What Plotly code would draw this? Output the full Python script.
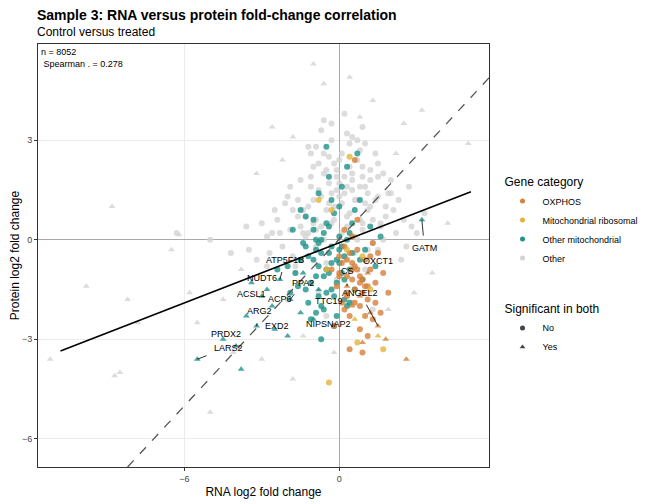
import plotly.graph_objects as go

# ---- data (representative subset) ----
other_circ_x = [-3.5,-3.0,-2.8,-2.5,-2.3,-2.0,-1.8,-1.6,-1.5,-1.3,-1.2,-1.0,-0.9,-0.8,-0.7,-0.6,-0.5,-0.4,-0.3,-0.2,-0.1,0.0,0.1,0.2,0.3,0.4,0.5,0.6,0.7,0.8,0.9,1.0,1.1,1.2,1.3,1.5,1.6,1.8,2.0,2.2,2.5,2.8,
                -2.2,-1.9,-1.7,-1.4,-1.1,-0.9,-0.6,-0.4,-0.2,0.1,0.3,0.5,0.7,0.9,1.1,1.4,1.7,2.1,-1.0,-0.5,0.0,0.4,0.8,1.2,-1.5,-0.8,0.2,0.6,1.0,1.5,-2.6,-3.2,-4.2,-5.0,-6.3,-0.3,0.2,0.9,-1.2,-0.7,1.9,2.4,-0.1,0.5,1.3,-2.0,-0.5,
                -1.6,-1.3,-1.1,-0.9,-0.7,-0.5,-0.3,-0.1,0.1,0.3,0.5,0.7,0.9,1.1,1.3,1.5,-1.4,-1.0,-0.6,-0.2,0.2,0.6,1.0,1.4,1.8,-1.8,-1.2,-0.8,-0.4,0.0,0.4,0.8,1.2,1.6,2.0,-2.4,-2.1,-1.5,-0.9,-0.3,0.3,0.9,1.5,2.3,2.6,-2.8,-1.9,-1.1,-0.1,0.7,1.7,3.0,-3.6,-2.7,-0.6,0.5,1.0,-1.7,2.7,3.3]
other_circ_y = [-0.3,0.5,-0.8,0.9,0.2,1.3,-0.5,0.7,1.8,0.1,1.0,2.2,-0.2,1.5,0.4,2.6,-0.7,1.1,3.0,0.6,1.9,2.4,0.2,1.4,3.2,0.8,2.0,-0.4,1.2,2.7,0.3,1.6,0.9,2.1,-0.1,1.3,0.5,1.0,1.8,0.2,0.6,0.4,
                -0.2,0.3,-1.0,0.9,1.6,2.8,0.0,1.7,2.3,1.1,0.4,1.5,2.4,1.9,-0.3,2.6,0.0,0.9,0.5,0.9,1.7,2.9,0.6,1.0,-1.3,-1.6,-0.6,0.1,-0.9,-0.3,0.2,-0.6,-0.4,0.0,0.2,3.5,3.8,3.4,2.8,3.3,1.4,-0.6,-1.2,-1.9,-2.1,-1.8,-2.3,
                1.2,0.7,1.9,0.3,1.3,2.1,0.5,1.5,2.6,0.7,1.8,0.0,2.2,1.4,0.6,1.9,0.2,1.2,2.0,1.0,1.9,1.2,1.1,1.2,0.7,0.9,0.2,2.3,2.5,1.3,2.2,1.6,1.8,0.4,1.4,0.6,1.1,0.4,0.6,1.4,1.6,0.5,2.3,1.2,-0.2,0.1,1.6,2.6,2.1,3.0,2.0,0.2,0.4,-0.4,3.6,3.1,2.9,-0.8,1.6,0.8]
other_tri_x = [-11.2,-8.8,-8.2,-7.8,-8.5,-8.7,-6.2,-6.5,-5.8,-5.5,-4.5,-3.8,-3.2,-2.2,-1.8,-1.0,-0.6,0.4,2.5,3.2,5.0,4.2,3.6,2.9,1.9,-5.0,-3.0,-1.8,-0.2,-4.1,-9.8,-2.6,1.3,2.2,-1.4,0.8]
other_tri_y = [-3.6,1.0,-1.8,-2.5,-4.0,-4.1,0.15,-0.3,-1.6,-2.5,-1.8,-0.9,2.0,2.4,3.1,5.3,4.7,4.9,3.5,3.9,2.9,0.5,-1.0,-1.6,-2.1,-5.2,-3.6,-4.2,-3.4,-3.4,-1.4,3.4,4.2,2.6,-2.9,3.7]

mito_circ_x = [-2.0,-1.8,-1.6,-1.5,-1.3,-1.2,-1.0,-0.9,-0.8,-0.7,-0.6,-0.5,-0.4,-0.3,-0.2,-0.1,0.0,0.1,0.2,0.3,0.4,0.5,0.6,0.8,1.0,1.2,1.4,-1.1,-0.6,-0.2,0.3,0.7,-1.4,-0.9,-0.4,0.1,0.6,-1.7,-0.8,0.0,-2.4,-1.3,-0.5,0.9,1.6,-0.7,-0.3,0.4,-1.0,-0.1,
               -1.2,-0.9,-0.7,-0.5,-0.3,-0.1,0.1,0.3,-1.1,-0.8,-0.6,-0.4,-0.2,0.0,0.2,0.5,-1.5,-1.0,-0.5,0.0,-0.7,-0.3,0.2,0.8,-1.9,-1.3,-0.9,0.4,-0.4,-0.8]
mito_circ_y = [-0.8,0.3,-1.4,0.9,-0.2,-1.9,0.6,-1.1,1.4,-0.4,0.2,-1.6,1.9,-0.7,0.8,-1.3,0.1,1.6,-0.5,2.2,-0.9,0.5,-1.5,1.2,-0.3,0.4,-0.8,-2.4,-2.1,-2.6,-2.0,2.6,-0.1,0.0,0.4,-0.2,0.9,-1.0,-1.7,1.0,-0.9,0.7,2.8,-1.2,0.1,-3.0,1.2,0.2,-0.6,-2.3,
               -0.5,-0.3,0.0,-0.9,-0.2,-0.6,-1.0,0.0,-1.3,-0.8,-1.1,-0.4,-1.7,-0.7,-1.2,-0.4,-0.6,0.3,0.5,-0.3,-2.0,-1.5,-1.8,-0.6,-1.6,-1.5,-2.2,-1.9,-1.0,-0.1]
mito_tri_x = [-2.3,-2.8,-3.0,-2.6,-3.6,-3.2,-2.5,-4.5,-5.5,-4.0,-1.9,-1.5,-1.0,-3.8,3.2,-1.4,-0.8,-2.0,-3.4]
mito_tri_y = [-1.2,-1.5,-1.7,-2.0,-2.3,-2.6,-2.7,-3.0,-3.6,-3.2,-1.8,-2.2,-2.4,-3.9,0.6,-1.0,-1.5,-2.9,-1.3]

ox_circ_x = [-0.3,-0.1,0.0,0.1,0.2,0.3,0.4,0.5,0.6,0.7,0.8,0.9,1.0,1.1,1.2,1.3,1.4,1.5,1.7,1.9,0.2,0.5,0.8,1.1,-0.2,0.4,0.9,1.3,0.6,0.0,0.7,1.6,0.3,1.0,0.5,
             0.1,0.3,0.5,0.7,0.9,1.1,0.2,0.4,0.6,0.8,1.0,1.2,0.0,0.6,1.4,0.3,0.8]
ox_circ_y = [-0.9,-1.4,-0.5,-1.9,-0.2,-1.1,-2.3,-0.7,-1.5,-0.3,-2.0,-1.2,-0.6,-1.8,-0.9,-2.4,-1.3,-0.4,-1.0,-1.6,0.3,0.1,-2.7,-2.9,-2.6,-3.3,-3.4,-0.1,2.4,-1.0,0.6,-2.2,-1.7,-1.4,-0.9,
             -0.7,-1.6,-1.2,-0.9,-1.6,-1.4,-2.1,-0.4,-1.9,-1.1,-2.3,-0.5,-1.1,-0.8,-1.9,-0.6,-1.3]
ox_tri_x = [0.3,0.8,1.2,1.5,0.9,1.8,2.6,0.5,1.1]
ox_tri_y = [-1.4,-1.7,-2.2,-2.6,-3.1,-3.0,-3.6,-2.0,-1.0]

rib_circ_x = [0.4,-0.8,0.7,-0.4,1.2,0.9,0.3,-0.5,1.7,-0.3]
rib_circ_y = [2.5,1.2,-3.1,-4.3,-1.5,-0.5,-0.3,-0.9,-3.3,0.9]
rib_tri_x = [1.5,0.6]
rib_tri_y = [-2.9,-2.4]

label_names = ["GATM","ATP5F1B","NUDT6","CS","OXCT1","ACSL1","ACP6","PPA2","TTC19","ANGEL2","ARG2","EXD2","NIPSNAP2","PRDX2","LARS2"]
label_x = [3.3,-2.1,-3.0,0.3,1.5,-3.4,-2.3,-1.4,-0.4,0.8,-3.1,-2.4,-0.4,-4.4,-4.3]
label_y = [-0.25,-0.6,-1.15,-0.95,-0.65,-1.65,-1.8,-1.3,-1.85,-1.6,-2.15,-2.6,-2.55,-2.85,-3.25]
point_x = [3.2,-2.3,-2.8,0.3,1.1,-3.0,-2.6,-1.9,-0.8,1.5,-3.2,-2.5,-1.0,-4.0,-5.5]
point_y = [0.6,-1.2,-1.5,-1.4,-1.0,-1.7,-2.0,-1.8,-1.5,-2.6,-2.6,-2.7,-2.4,-3.2,-3.6]

reg_x = [-10.8, 5.1]; reg_y = [-3.35, 1.45]
ref_x = [-8.2, 5.8]; ref_y = [-6.85, 4.88]

cols = {"OXPHOS": "#D6803A", "Mitochondrial ribosomal": "#E4B33A",
        "Other mitochondrial": "#1F9489", "Other": "#D3D3D3"}

fig = go.Figure()
def pts(x, y, c, sym, op=0.8):
    fig.add_trace(go.Scatter(x=x, y=y, mode="markers", showlegend=False, hoverinfo="skip",
                             marker=dict(color=c, symbol=sym, size=6, opacity=op, line=dict(width=0))))
pts(other_circ_x, other_circ_y, cols["Other"], "circle")
pts(other_tri_x, other_tri_y, cols["Other"], "triangle-up")
pts(mito_circ_x, mito_circ_y, cols["Other mitochondrial"], "circle")
pts(mito_tri_x, mito_tri_y, cols["Other mitochondrial"], "triangle-up")
pts(ox_circ_x, ox_circ_y, cols["OXPHOS"], "circle")
pts(ox_tri_x, ox_tri_y, cols["OXPHOS"], "triangle-up")
pts(rib_circ_x, rib_circ_y, cols["Mitochondrial ribosomal"], "circle")
pts(rib_tri_x, rib_tri_y, cols["Mitochondrial ribosomal"], "triangle-up")

fig.add_trace(go.Scatter(x=ref_x, y=ref_y, mode="lines", showlegend=False,
                         line=dict(color="#555", dash="dash", width=1.3)))
fig.add_trace(go.Scatter(x=reg_x, y=reg_y, mode="lines", showlegend=False,
                         line=dict(color="black", width=1.6)))

for name in ["OXPHOS", "Mitochondrial ribosomal", "Other mitochondrial", "Other"]:
    fig.add_trace(go.Scatter(x=[None], y=[None], mode="markers", name=name, legend="legend",
                             marker=dict(color=cols[name], size=5)))
for name, sym in [("No", "circle"), ("Yes", "triangle-up")]:
    fig.add_trace(go.Scatter(x=[None], y=[None], mode="markers", name=name, legend="legend2",
                             marker=dict(color="#444", size=5, symbol=sym)))

for n, lx, ly, px, py in zip(label_names, label_x, label_y, point_x, point_y):
    fig.add_annotation(x=px, y=py, ax=lx, ay=ly, axref="x", ayref="y", text=n,
                       showarrow=True, arrowhead=0, arrowwidth=0.8, arrowcolor="black",
                       font=dict(size=9, color="black"), standoff=0, startstandoff=6)

fig.add_annotation(x=0, y=1, xref="paper", yref="paper", xanchor="left", yanchor="top",
                   text="n = 8052<br> Spearman . = 0.278", showarrow=False, align="left",
                   font=dict(size=9, color="black"), xshift=1, yshift=-1)
fig.add_annotation(text="<b>Sample 3: RNA versus protein fold-change correlation</b>", xref="paper", yref="paper",
                   x=0, y=1, yshift=19, xanchor="left", yanchor="bottom", showarrow=False,
                   font=dict(size=14, color="black"), xshift=-3)
fig.add_annotation(text="Control versus treated", xref="paper", yref="paper",
                   x=0, y=1, yshift=3, xanchor="left", yanchor="bottom", showarrow=False,
                   font=dict(size=12, color="black"), xshift=-3)

fig.update_layout(
    width=648, height=504, paper_bgcolor="white", plot_bgcolor="white",
    margin=dict(l=30, r=167, t=36, b=45, autoexpand=False),
    font=dict(family="Liberation Sans, Arial", size=11, color="#333"),
    xaxis=dict(range=[-11.67, 5.8], tickvals=[-6, 0], showgrid=True, gridcolor="#EBEBEB", automargin=False,
               zeroline=True, zerolinecolor="#AAA", zerolinewidth=1, showline=True, mirror=True,
               linecolor="#333", linewidth=0.8, ticks="outside", ticklen=3, tickcolor="#333",
               title=dict(text="RNA log2 fold change", font=dict(size=12, color="black"), standoff=4),
               tickfont=dict(size=9, color="#444")),
    yaxis=dict(range=[-6.85, 5.9], tickvals=[-6, -3, 0, 3], showgrid=True, gridcolor="#EBEBEB", automargin=False,
               zeroline=True, zerolinecolor="#AAA", zerolinewidth=1, showline=True, mirror=True,
               linecolor="#333", linewidth=0.8, ticks="outside", ticklen=3, tickcolor="#333",
               title=dict(text="Protein log2 fold change", font=dict(size=12, color="black"), standoff=4),
               tickfont=dict(size=9, color="#444")),
    legend=dict(x=1.03, y=0.7, xanchor="left", yanchor="top", title=dict(text="Gene category", font=dict(size=12, color="black")),
                font=dict(size=9, color="black"), itemsizing="trace"),
    legend2=dict(x=1.03, y=0.4, xanchor="left", yanchor="top", title=dict(text="Significant in both", font=dict(size=12, color="black")),
                 font=dict(size=9, color="black"), itemsizing="trace"),
)
fig.write_html("out.html")
